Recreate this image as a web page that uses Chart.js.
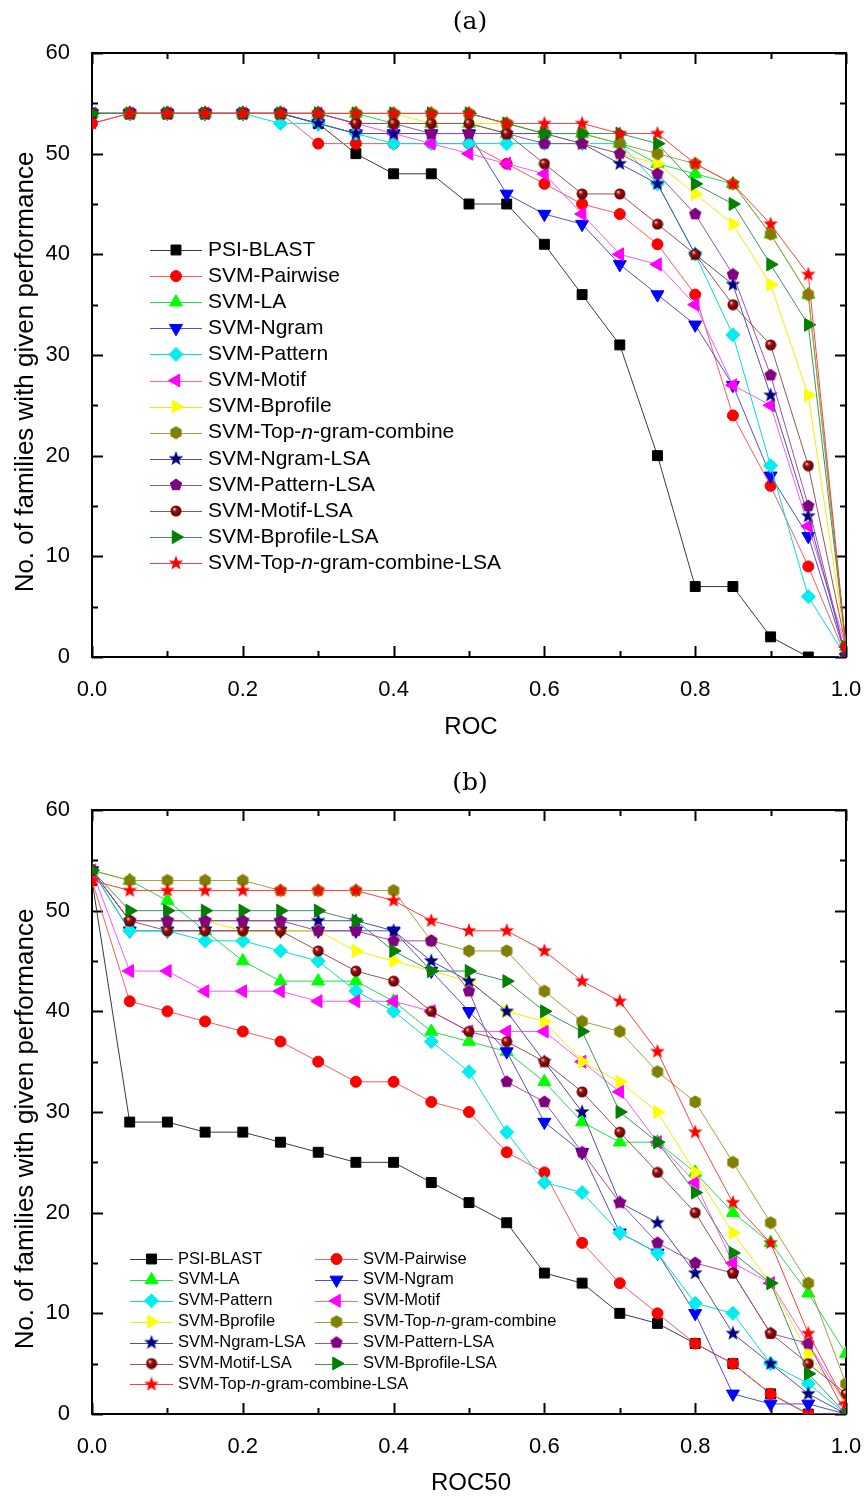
<!DOCTYPE html>
<html>
<head>
<meta charset="utf-8">
<script src="https://cdn.jsdelivr.net/npm/chart.js"></script>
<style>
  body { margin: 0; background: #fff; }
  canvas { display: block; }
</style>
</head>
<body>
<canvas id="chartA" width="864" height="751"></canvas>
<canvas id="chartB" width="864" height="750"></canvas>
<script>
// valores de x (ROC / ROC50)
const xValues = [0, 0.05, 0.1, 0.15, 0.2, 0.25, 0.3, 0.35, 0.4, 0.45, 0.5,
                 0.55, 0.6, 0.65, 0.7, 0.75, 0.8, 0.85, 0.9, 0.95, 1.0];

const seriesNames = [
  'PSI-BLAST', 'SVM-Pairwise', 'SVM-LA', 'SVM-Ngram', 'SVM-Pattern', 'SVM-Motif',
  'SVM-Bprofile', 'SVM-Top-n-gram-combine', 'SVM-Ngram-LSA', 'SVM-Pattern-LSA',
  'SVM-Motif-LSA', 'SVM-Bprofile-LSA', 'SVM-Top-n-gram-combine-LSA'
];

// (a) ROC
const rocPsiBlast    = [54,54,54,54,54,54,53,50,48,48,45,45,41,36,31,20,7,7,2,0,0];
const rocPairwise    = [53,54,54,54,54,54,51,51,51,51,51,49,47,45,44,41,36,24,17,9,0];
const rocLA          = [54,54,54,54,54,54,54,54,53,53,53,52,52,52,51,49,48,47,42,36,1];
const rocNgram       = [54,54,54,54,54,54,53,52,52,52,52,46,44,43,39,36,33,27,18,12,0];
const rocPattern     = [54,54,54,54,54,53,53,52,51,51,51,51,51,51,51,47,40,32,19,6,0];
const rocMotif       = [54,54,54,54,54,54,54,53,52,51,50,49,48,44,40,39,35,27,25,13,1];
const rocBprofile    = [54,54,54,54,54,54,54,54,54,53,53,53,52,51,50,49,46,43,37,26,1];
const rocTop         = [54,54,54,54,54,54,54,54,54,54,54,53,52,52,51,50,49,47,42,36,1];
const rocNgramLSA    = [54,54,54,54,54,54,53,52,52,52,52,52,52,51,49,47,40,37,26,14,0];
const rocPatternLSA  = [54,54,54,54,54,54,54,53,53,52,52,52,51,51,50,48,44,38,28,15,0];
const rocMotifLSA    = [54,54,54,54,54,54,54,53,53,53,53,52,49,46,46,43,40,35,31,19,1];
const rocBprofileLSA = [54,54,54,54,54,54,54,54,54,54,54,53,52,52,52,51,47,45,39,33,1];
const rocTopLSA      = [53,54,54,54,54,54,54,54,54,54,54,53,53,53,52,52,49,47,43,38,1];

// (b) ROC50
const roc50PsiBlast    = [53,29,29,28,28,27,26,25,25,23,21,19,14,13,10,9,7,5,2,0,0];
const roc50Pairwise    = [53,41,40,39,38,37,35,33,33,31,30,26,24,17,13,10,7,5,2,0,0];
const roc50LA          = [54,53,51,48,45,43,43,43,41,38,37,36,33,29,27,27,24,20,17,12,6];
const roc50Ngram       = [54,48,48,48,48,48,48,48,48,44,40,36,29,26,18,16,10,2,1,1,0];
const roc50Pattern     = [54,48,48,47,47,46,45,42,40,37,34,28,23,22,18,16,11,10,5,3,0];
const roc50Motif       = [54,44,44,42,42,42,41,41,41,40,38,38,38,35,32,27,23,15,13,7,1];
const roc50Bprofile    = [54,49,49,49,48,48,48,46,45,44,43,40,39,35,33,30,24,18,13,6,1];
const roc50Top         = [54,53,53,53,53,52,52,52,52,47,46,46,42,39,38,34,31,25,19,13,3];
const roc50NgramLSA    = [54,49,49,49,49,49,49,49,48,45,43,40,35,30,21,19,14,8,5,2,0];
const roc50PatternLSA  = [54,49,49,49,49,49,48,48,47,47,42,33,31,26,21,17,15,14,8,7,0];
const roc50MotifLSA    = [54,49,48,48,48,48,46,44,43,40,38,37,35,32,28,24,20,14,8,5,2];
const roc50BprofileLSA = [54,50,50,50,50,50,50,49,46,44,44,43,40,38,30,27,22,16,13,4,0];
const roc50TopLSA      = [53,52,52,52,52,52,52,52,51,49,48,48,46,43,41,36,28,21,17,8,1];

const rocSeries = [rocPsiBlast, rocPairwise, rocLA, rocNgram, rocPattern, rocMotif, rocBprofile,
                   rocTop, rocNgramLSA, rocPatternLSA, rocMotifLSA, rocBprofileLSA, rocTopLSA];
const roc50Series = [roc50PsiBlast, roc50Pairwise, roc50LA, roc50Ngram, roc50Pattern, roc50Motif,
                     roc50Bprofile, roc50Top, roc50NgramLSA, roc50PatternLSA, roc50MotifLSA,
                     roc50BprofileLSA, roc50TopLSA];

// marcadores hechos a mano (estrella, pentágono, hexágono, esfera)
function markerCanvas(kind, color, size) {
  const c = document.createElement('canvas');
  c.width = size; c.height = size;
  const g = c.getContext('2d');
  const r = size / 2;
  g.translate(r, r);
  g.fillStyle = color;
  g.beginPath();
  if (kind === 'star') {
    for (let k = 0; k < 10; k++) {
      const rr = k % 2 === 0 ? r - 0.3 : (r - 0.3) * 0.42;
      const a = -Math.PI / 2 + k * Math.PI / 5;
      g.lineTo(rr * Math.cos(a), rr * Math.sin(a));
    }
  } else if (kind === 'pentagon' || kind === 'hexagon') {
    const n = kind === 'pentagon' ? 5 : 6;
    for (let k = 0; k < n; k++) {
      const a = -Math.PI / 2 + k * 2 * Math.PI / n;
      g.lineTo((r - 0.5) * Math.cos(a), (r - 0.5) * Math.sin(a));
    }
  } else if (kind === 'sphere') {
    const grad = g.createRadialGradient(-r * 0.3, -r * 0.35, 0.5, 0, 0, r);
    grad.addColorStop(0, '#f0b0b0');
    grad.addColorStop(0.3, '#a01010');
    grad.addColorStop(1, '#500000');
    g.fillStyle = grad;
    g.arc(0, 0, r - 0.5, 0, Math.PI * 2);
  }
  g.closePath();
  g.fill();
  return c;
}

const styles = [
  { color: '#000000', line: '#3a3a3a', shape: 'rect', radius: 7 },
  { color: '#ff0000', line: '#ff5a5a', shape: 'circle', radius: 5.5 },
  { color: '#00ff00', line: '#20dd50', shape: 'triangle', radius: 7.5 },
  { color: '#0000ff', line: '#5050c8', shape: 'triangle', radius: 7.5, rotation: 180 },
  { color: '#00eeee', line: '#00dddd', shape: 'rectRot', radius: 7 },
  { color: '#ff00ff', line: '#ff55ff', shape: 'triangle', radius: 7.5, rotation: 270 },
  { color: '#ffff00', line: '#eeee00', shape: 'triangle', radius: 7.5, rotation: 90 },
  { color: '#808000', line: '#a0a040', shape: markerCanvas('hexagon', '#808000', 14), radius: 7 },
  { color: '#000080', line: '#5050a0', shape: markerCanvas('star', '#000080', 16), radius: 7 },
  { color: '#800080', line: '#a050a0', shape: markerCanvas('pentagon', '#800080', 14), radius: 7 },
  { color: '#800000', line: '#a05050', shape: markerCanvas('sphere', '#800000', 12), radius: 6 },
  { color: '#008000', line: '#409060', shape: 'triangle', radius: 7.5, rotation: 90 },
  { color: '#ff0000', line: '#ff4040', shape: markerCanvas('star', '#ff0000', 16), radius: 7 }
];

// texto con la "n" en cursiva
function drawLabel(ctx, text, x, y, size) {
  const parts = text.split('-n-');
  const plain = size + 'px "Liberation Sans", Arial, sans-serif';
  ctx.textAlign = 'left';
  ctx.textBaseline = 'middle';
  ctx.fillStyle = '#000';
  let cx = x;
  parts.forEach((p, i) => {
    let seg = p;
    if (i > 0) seg = '-' + seg;
    if (i < parts.length - 1) seg = seg + '-';
    ctx.font = plain;
    ctx.fillText(seg, cx, y);
    cx += ctx.measureText(seg).width;
    if (i < parts.length - 1) {
      ctx.font = 'italic ' + plain;
      ctx.fillText('n', cx, y);
      cx += ctx.measureText('n').width;
    }
  });
}

function drawMarker(ctx, st, x, y) {
  ctx.fillStyle = st.color;
  ctx.strokeStyle = st.color;
  ctx.lineWidth = 1;
  Chart.helpers.drawPoint(ctx, { pointStyle: st.shape, rotation: st.rotation || 0, radius: st.radius, borderWidth: 1 }, x, y);
}

// marco, ticks hacia dentro, títulos y leyenda
const decoPlugin = {
  id: 'deco',
  beforeDatasetsDraw(chart) {
    const { ctx, chartArea: a, scales } = chart;
    const o = chart.options.plugins.deco;
    ctx.save();
    ctx.strokeStyle = '#000';
    ctx.lineWidth = 2;
    ctx.strokeRect(a.left, a.top, a.right - a.left, a.bottom - a.top);
    ctx.beginPath();
    scales.x.ticks.forEach((t, i) => {
      const px = Math.round(scales.x.getPixelForValue(t.value)) + 0.5;
      const len = i % 2 === 0 ? 11 : 6;
      ctx.moveTo(px, a.bottom); ctx.lineTo(px, a.bottom - len);
      ctx.moveTo(px, a.top); ctx.lineTo(px, a.top + len);
    });
    scales.y.ticks.forEach(t => {
      const py = Math.round(scales.y.getPixelForValue(t.value)) + 0.5;
      const len = t.value % 10 === 0 ? 11 : 6;
      ctx.moveTo(a.left, py); ctx.lineTo(a.left + len, py);
      ctx.moveTo(a.right, py); ctx.lineTo(a.right - len, py);
    });
    ctx.stroke();

    // títulos
    ctx.fillStyle = '#000';
    ctx.textAlign = 'center';
    ctx.textBaseline = 'middle';
    ctx.font = '25px "DejaVu Serif", serif';
    ctx.fillText(o.title, 470, o.titleY);
    ctx.font = '24px "Liberation Sans", Arial, sans-serif';
    ctx.fillText(o.xTitle, (a.left + a.right) / 2 + 2, o.xTitleY);
    ctx.save();
    ctx.translate(26, (a.top + a.bottom) / 2 + 17);
    ctx.rotate(-Math.PI / 2);
    ctx.font = '26px "Liberation Sans", Arial, sans-serif';
    ctx.fillText('No. of families with given performance', 0, 0);
    ctx.restore();

    // leyenda
    const lg = o.legend;
    seriesNames.forEach((name, i) => {
      const col = i % lg.cols;
      const row = Math.floor(i / lg.cols);
      const x0 = lg.colX[col];
      const y = lg.y0 + row * lg.dy;
      const st = styles[i];
      ctx.strokeStyle = st.line;
      ctx.lineWidth = 1;
      ctx.beginPath();
      ctx.moveTo(x0, Math.round(y) + 0.5);
      ctx.lineTo(x0 + lg.lineLen, Math.round(y) + 0.5);
      ctx.stroke();
      drawMarker(ctx, st, x0 + lg.lineLen / 2, y);
      drawLabel(ctx, name, x0 + lg.lineLen + lg.gap, y, lg.size);
    });
    ctx.restore();
  }
};

function makeChart(id, series, opts) {
  const datasets = series.map((vals, i) => {
    const st = styles[i];
    return {
      label: seriesNames[i],
      data: xValues.map((x, k) => ({ x: x, y: vals[k] })),
      borderColor: st.line,
      borderWidth: 1,
      backgroundColor: st.color,
      pointStyle: st.shape,
      pointRotation: st.rotation || 0,
      pointRadius: st.radius,
      pointBackgroundColor: st.color,
      pointBorderColor: st.color,
      pointBorderWidth: 1,
      tension: 0,
      order: series.length - i
    };
  });
  return new Chart(document.getElementById(id), {
    type: 'line',
    data: { datasets },
    plugins: [decoPlugin],
    options: {
      responsive: false,
      devicePixelRatio: 1,
      animation: false,
      layout: { padding: { top: opts.top, right: 18, left: 0, bottom: 0 } },
      plugins: {
        legend: { display: false },
        tooltip: { enabled: false },
        deco: opts
      },
      scales: {
        x: {
          type: 'linear', min: 0, max: 1,
          grid: { display: false }, border: { display: false },
          afterFit: s => { s.height = opts.xAxisHeight; s.paddingLeft = 0; s.paddingRight = 0; },
          ticks: {
            stepSize: 0.1, autoSkip: false, maxRotation: 0, padding: 12, color: '#000',
            font: { size: 22, family: '"Liberation Sans", Arial, sans-serif' },
            callback: (v, i) => i % 2 === 0 ? v.toFixed(1) : ''
          }
        },
        y: {
          min: 0, max: 60,
          grid: { display: false }, border: { display: false },
          afterFit: s => { s.width = 92; s.paddingTop = 0; s.paddingBottom = 0; },
          ticks: {
            stepSize: 5, padding: 14, color: '#000',
            font: { size: 22, family: '"Liberation Sans", Arial, sans-serif' },
            callback: v => v % 10 === 0 ? v : ''
          }
        }
      }
    }
  });
}

makeChart('chartA', rocSeries, {
  top: 53, xAxisHeight: 94, title: '(a)', titleY: 22, xTitle: 'ROC', xTitleY: 727,
  legend: { cols: 1, colX: [150], y0: 250, dy: 26.1, lineLen: 52, gap: 6, size: 21 }
});
makeChart('chartB', roc50Series, {
  top: 59, xAxisHeight: 87, title: '(b)', titleY: 32, xTitle: 'ROC50', xTitleY: 732,
  legend: { cols: 2, colX: [130, 315], y0: 508, dy: 20.9, lineLen: 43, gap: 5, size: 16.5 }
});
</script>
</body>
</html>
